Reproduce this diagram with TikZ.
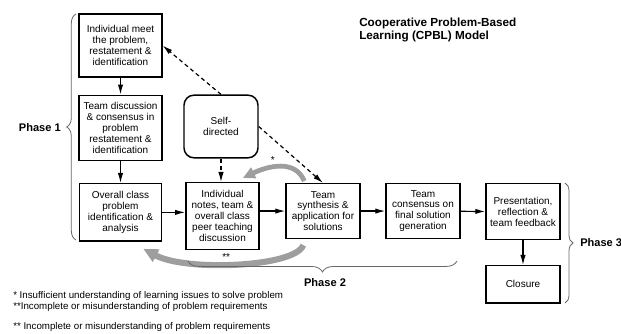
\documentclass[tikz,border=0pt]{standalone}
\usepackage{fontspec}
\setmainfont{Liberation Sans}
\usetikzlibrary{arrows.meta,positioning,calc,decorations.pathreplacing}

\begin{document}
\begin{tikzpicture}[x=0.75pt,y=-0.75pt,>={Latex[length=7.5pt,width=4pt]},
  stage/.style={draw,line width=1.1pt,align=center,inner sep=1pt,font=\fontsize{7.5}{8.2}\selectfont},
  flow/.style={->,line width=0.9pt},
  selfarrow/.style={->,line width=0.9pt,dash pattern=on 3pt off 2.4pt},
  loopback/.style={draw=black!38,line cap=butt},
  phase/.style={draw=black!60,line width=0.6pt,decorate,decoration={brace,amplitude=#1}},
  phaselabel/.style={font=\fontsize{8.3}{10}\selectfont\bfseries,inner sep=0pt},
  note/.style={anchor=west,inner sep=0pt,font=\fontsize{7.3}{8}\selectfont}]
\useasboundingbox (0,0) rectangle (621,334);

\node[stage,minimum width=62pt,minimum height=47pt] (meet) at (120.5,45.5) {Individual meet\\the problem,\\restatement \&\\identification};
\node[stage,minimum width=62pt,minimum height=49pt] (teamdisc) at (120.5,128) {Team discussion\\\& consensus in\\problem\\restatement \&\\identification};
\node[stage,minimum width=61.5pt,minimum height=43pt,anchor=north] (overall) at (120.5,183) {Overall class\\problem\\identification \&\\analysis};
\node[stage,minimum width=55pt,minimum height=50pt,anchor=north] (notes) at (222.5,182) {Individual\\notes, team \&\\overall class\\peer teaching\\discussion};
\node[stage,minimum width=55.5pt,minimum height=41pt,anchor=north] (synth) at (323,183) {Team\\synthesis \&\\application for\\solutions};
\node[stage,minimum width=55.5pt,minimum height=41pt,anchor=north] (consensus) at (423,183) {Team\\consensus on\\final solution\\generation};
\node[stage,minimum width=55.5pt,minimum height=42pt,anchor=north] (present) at (523,183) {Presentation,\\reflection \&\\team feedback};
\node[stage,minimum width=55.5pt,minimum height=28pt,anchor=north] (closure) at (523,265) {Closure};
\node[stage,rounded corners=7.5pt,minimum width=55.5pt,minimum height=47pt] (self) at (221,126.5) {Self-\\directed};

\node[anchor=north west,align=left,inner sep=0pt,font=\fontsize{8.8}{9.5}\selectfont\bfseries] (title) at (359,18) {Cooperative Problem-Based\\Learning (CPBL) Model};

\draw[flow] (meet) -- (teamdisc);
\draw[flow] (teamdisc) -- (overall);
\draw[flow] (overall) -- (overall -| notes.west);
\draw[flow] (notes.east |- synth) -- (synth);
\draw[flow] (synth) -- (consensus);
\draw[flow] (consensus) -- (present);
\draw[flow] (present) -- (closure);

\draw[selfarrow] (self.north) -- (meet.east);
\draw[selfarrow] (self.south) -- (self.south |- notes.north);
\draw[selfarrow] (self.east) -- (synth.north);

\draw[loopback,line width=3.6pt,-{Triangle[length=9pt,width=8.5pt]}] ($(synth.north west)+(19,-2)$) .. controls ($(synth.north west)+(10,-24)$) and ($(notes.north east)+(8,-16)$) .. ($(notes.north east)+(-17,-4)$) node[pos=0.6,above=1pt,font=\fontsize{7.5}{8}\selectfont,inner sep=0pt] (star) {*};
\draw[loopback,line width=4.6pt,-{Triangle[length=11pt,width=10pt]}] ($(synth.south west)+(18,6)$) .. controls ($(synth.south west)+(10,28)$) and ($(overall.south east)+(24,30)$) .. ($(overall.south east)+(-19,7)$) node[pos=0.55,above=0pt,font=\fontsize{7.5}{8}\selectfont,inner sep=0pt] (dstar) {**};

\draw[phase=7pt] (76,240) -- (76,14);
\draw[phase=8.2pt] (457,261) -- (188,261);
\draw[phase=6pt] (565,183) -- (565,303);
\node[phaselabel,anchor=east] (p1) at (61,128) {Phase 1};
\node[phaselabel] (p2) at (325,283) {Phase 2};
\node[phaselabel,anchor=west] (p3) at (580,243) {Phase 3};

\node[note] (n1) at (13,296) {* Insufficient understanding of learning issues to solve problem};
\node[note] (n2) at (13,307) {**Incomplete or misunderstanding of problem requirements};
\node[note] (n3) at (13,327) {** Incomplete or misunderstanding of problem requirements};
\end{tikzpicture}
\end{document}
